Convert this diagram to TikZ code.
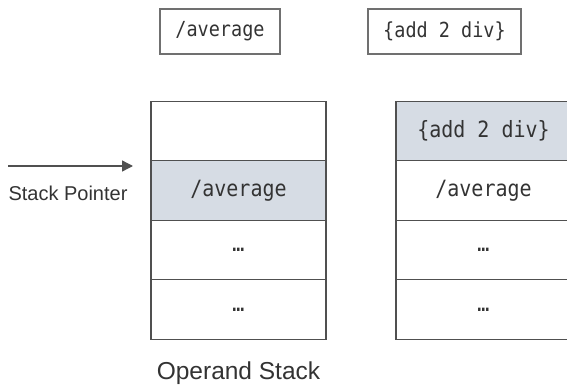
\documentclass[tikz,border=0pt]{standalone}
\usepackage{fontspec}
\usepackage{graphicx}
\setmainfont{Liberation Sans}
\setmonofont{DejaVu Sans Mono}
\usetikzlibrary{arrows.meta}
\definecolor{edge}{HTML}{505050}
\definecolor{boxedge}{HTML}{707070}
\definecolor{topcell}{HTML}{D6DCE4}
\definecolor{ink}{HTML}{333333}
% slightly taller monospaced lettering
\newcommand{\codetxt}[1]{\scalebox{1}[1.12]{\ttfamily #1}}
\tikzset{
  cell/.style={draw=edge, line width=1.4pt, minimum width=175pt, minimum height=59.5pt,
               inner sep=0pt, text=ink, font=\fontsize{20}{24}\selectfont},
  hot/.style={cell, fill=topcell},
  label box/.style={draw=boxedge, line width=1.4pt, minimum height=45pt, inner sep=0pt,
                    text=ink, font=\fontsize{18.5}{22}\selectfont},
  caption/.style={text=ink, inner sep=0pt}
}
\begin{document}
\begin{tikzpicture}[x=1pt, y=-1pt]
\useasboundingbox (0,0) rectangle (567,388);
\begin{scope}
\clip (0,0) rectangle (567,388);
% items waiting to be pushed
\node[label box, minimum width=120pt] (nameitem) at (220,31.5) {\codetxt{/average}};
\node[label box, minimum width=153pt] (procitem) at (444.5,31.5) {\codetxt{\{add 2 div\}}};

% operand stack after pushing the name
\node[cell] (l1) at (238.5,131) {};
\node[hot]  (l2) at (238.5,190.5) {\codetxt{/average}};
\node[cell] (l3) at (238.5,250) {\codetxt{…}};
\node[cell] (l4) at (238.5,309.5) {\codetxt{…}};

% operand stack after pushing the procedure
\node[hot]  (r1) at (483.5,131) {\codetxt{\{add 2 div\}}};
\node[cell] (r2) at (483.5,190.5) {\codetxt{/average}};
\node[cell] (r3) at (483.5,250) {\codetxt{…}};
\node[cell] (r4) at (483.5,309.5) {\codetxt{…}};
\end{scope}

% stack pointer
\coordinate (sptail) at (8,166);
\coordinate (sphead) at (133,166);
\draw[edge, line width=1.4pt, -{Triangle[length=11pt, width=11pt]}] (sptail) -- (sphead);
\node[caption, font=\fontsize{20}{24}\selectfont] (splabel) at (68,193) {Stack Pointer};
\node[caption, font=\fontsize{24.5}{29}\selectfont] (stacklabel) at (238.5,373) {Operand Stack};
\end{tikzpicture}
\end{document}
